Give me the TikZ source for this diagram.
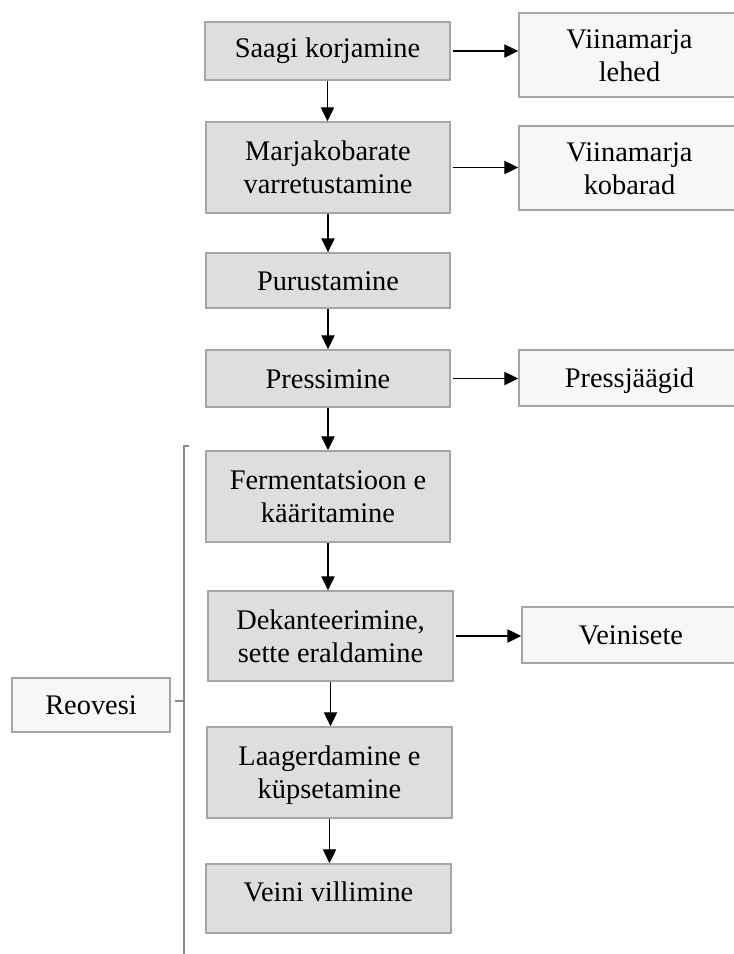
\documentclass[tikz,border=0pt]{standalone}
\usepackage{fontspec}
\setmainfont{Liberation Serif}
\usetikzlibrary{arrows.meta}
\definecolor{bordergray}{HTML}{A5A5A5}
\definecolor{mainfill}{HTML}{DEDEDE}
\definecolor{sidefill}{HTML}{F7F7F7}
\definecolor{bracegray}{HTML}{8A8A8A}
\newcommand\wstrut{\vrule width0pt height0.891em depth0.216em\relax}
\newcommand\bx[7]{%
  \pgfmathsetmacro\bxw{(#4-#2)*0.75}%
  \pgfmathsetmacro\bxh{(#5-#3)*0.75}%
  \node[#6, minimum width=\bxw pt, minimum height=\bxh pt] (#1) at ({(#2+#4)/2},{(#3+#5)/2}) {#7};}
\newcommand\up[2]{\raisebox{#1}[0.891em][0.216em]{#2}}
\begin{document}
\begin{tikzpicture}[x=0.75pt,y=-0.75pt,
  font=\fontsize{21.3pt}{24.75pt}\selectfont,
  mainbox/.style={draw=bordergray, fill=mainfill, line width=1.1pt, inner sep=0pt, align=center},
  sidebox/.style={draw=bordergray, fill=sidefill, line width=1.1pt, inner sep=0pt, align=center},
  arr/.style={-{Triangle[length=10.5pt,width=10pt]}, line width=0.95pt, black},
  bracel/.style={draw=bracegray, line width=1.1pt}]
\useasboundingbox (0,0) rectangle (734,954);
\clip (0,0) rectangle (734,954);
% main column
\bx{s1}{205}{22}{450}{80}{mainbox}{\up{2.2pt}{\wstrut Saagi korjamine}}
\bx{s2}{206}{122}{450}{213}{mainbox}{\wstrut Marjakobarate\\\wstrut varretustamine}
\bx{s3}{206}{253}{450}{308}{mainbox}{\wstrut Purustamine}
\bx{s4}{206}{350}{450}{407}{mainbox}{\wstrut Pressimine}
\bx{s5}{206}{451}{450}{542}{mainbox}{\wstrut Fermentatsioon e\\\wstrut kääritamine}
\bx{s6}{208}{591}{453}{681}{mainbox}{\wstrut Dekanteerimine,\\\wstrut sette eraldamine}
\bx{s7}{207}{727}{452}{818}{mainbox}{\wstrut Laagerdamine e\\\wstrut küpsetamine}
\bx{s8}{206}{864}{451}{933}{mainbox}{\up{5.25pt}{\wstrut Veini villimine}}
% side column
\bx{o1}{519}{13}{740}{97}{sidebox}{\wstrut Viinamarja\\\wstrut lehed}
\bx{o2}{519}{126}{740}{210}{sidebox}{\wstrut Viinamarja\\\wstrut kobarad}
\bx{o3}{519}{350}{740}{406}{sidebox}{\wstrut Pressjäägid}
\bx{o4}{522}{607}{740}{663}{sidebox}{\wstrut Veinisete}
\bx{reo}{12}{678}{170}{732}{sidebox}{\wstrut Reovesi}
% vertical arrows
\foreach \a/\b in {s1/s2,s2/s3,s3/s4,s4/s5,s5/s6,s6/s7,s7/s8}
  \draw[arr] (\a.south) -- (\a.south |- \b.north);
% horizontal arrows
\foreach \a/\b in {s1/o1,s2/o2,s4/o3,s6/o4}
  \draw[arr, shorten <=1.5pt] (\a.east) -- (\a.east -| \b.west);
% brace
\coordinate (bt) at (184,446);
\coordinate (bb) at (184,970);
\coordinate (bm) at (184,701);
\coordinate (bh) at (189,446);
\coordinate (bl) at (175,701);
\draw[bracel] (bh) -- (bt) -- (bb);
\draw[bracel] (bm) -- (bl);
\end{tikzpicture}
\end{document}
